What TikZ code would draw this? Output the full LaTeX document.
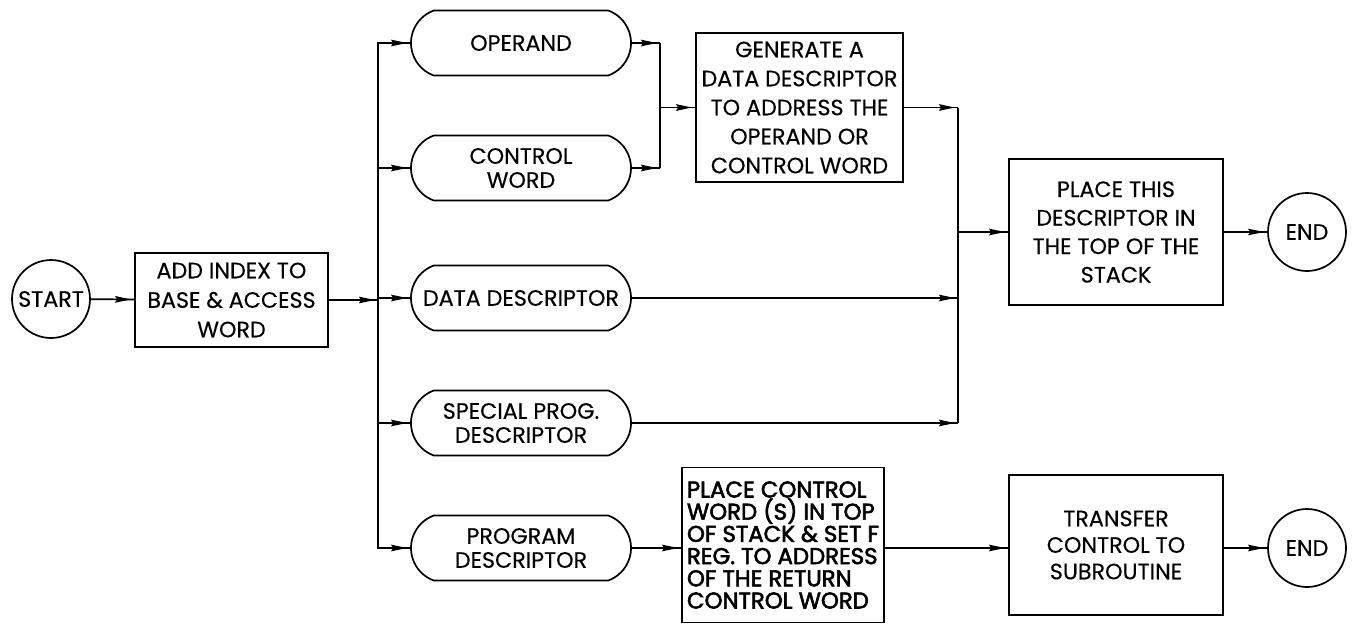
\documentclass[tikz,border=0pt]{standalone}
\usepackage{fontspec}
\setmainfont{Poppins}[FakeBold=0.3]
\newfontfamily\heavyfont{Poppins}[FakeBold=2.5]
\usetikzlibrary{arrows.meta,shapes.misc,decorations.markings}

\newlength\calw

\begin{document}
% font sizes derived from the printed line widths
\settowidth\calw{\fontsize{10pt}{12pt}\selectfont DATA DESCRIPTOR}%
\pgfmathsetmacro\mainfs{10*196/\calw}%
\settowidth\calw{\fontsize{10pt}{12pt}\heavyfont OF STACK \& SET F}%
\pgfmathsetmacro\boldfs{10*192/\calw}%
\begin{tikzpicture}[x=1pt,y=-1pt,
  line width=1.7pt,
  every node/.style={font=\fontsize{\mainfs}{28}\selectfont, inner sep=0pt, align=center},
  flow/.style={postaction={decorate}, decoration={markings,
      mark=at position -3pt with {\arrow{Stealth[length=16pt,width=6.5pt,inset=2pt]}}}},
  termnode/.style={draw, circle, minimum size=78pt},
  procbox/.style={draw, rectangle},
  choice/.style={draw, rounded rectangle, rounded rectangle arc length=140,
    minimum width=220pt, minimum height=65pt,
    font=\fontsize{\mainfs}{24}\selectfont},
]
\useasboundingbox (0,0) rectangle (1355,624);

% entry and address computation
\node[termnode] (start) at (51,299) {START};
\node[procbox, minimum width=193pt, minimum height=94pt, font=\fontsize{\mainfs}{29.5}\selectfont]
  (add) at (231.5,300) {ADD INDEX TO\\BASE \& ACCESS\\WORD};

% word types fetched from the stack
\node[choice] (op) at (521,43) {OPERAND};
\node[choice] (cw) at (521,168) {CONTROL\\WORD};
\node[choice] (dd) at (521,298) {DATA DESCRIPTOR};
\node[choice] (sp) at (521,423) {SPECIAL PROG.\\DESCRIPTOR};
\node[choice] (pd) at (521,548) {PROGRAM\\DESCRIPTOR};

% actions
\node[procbox, minimum width=207pt, minimum height=149pt, font=\fontsize{\mainfs}{29}\selectfont]
  (gen) at (799.5,107.5)
  {GENERATE A\\DATA DESCRIPTOR\\TO ADDRESS THE\\OPERAND OR\\CONTROL WORD};
\node[procbox, minimum width=214pt, minimum height=146pt, font=\fontsize{\mainfs}{28.5}\selectfont]
  (pts) at (1116,232)
  {PLACE THIS\\DESCRIPTOR IN\\THE TOP OF THE\\STACK};
\node[termnode] (end1) at (1307,232) {END};

\node[procbox, minimum width=202pt, minimum height=155pt,
  font=\fontsize{\boldfs}{22.2}\heavyfont, align=left] (pcw) at (783,545)
  {PLACE CONTROL\\WORD (S) IN TOP\\OF STACK \& SET F\\REG. TO ADDRESS\\OF THE RETURN\\CONTROL WORD};
\node[procbox, minimum width=214pt, minimum height=140pt,
  font=\fontsize{\mainfs}{26.5}\selectfont] (xfer) at (1116,545)
  {TRANSFER\\CONTROL TO\\SUBROUTINE};
\node[termnode] (end2) at (1307,548) {END};

% junction points
\coordinate (split) at (378,300);
\coordinate (m1top) at (660,43);
\coordinate (m1bot) at (660,168);
\coordinate (m1) at (660,107.5);
\coordinate (m2a) at (958,107.5);
\coordinate (m2b) at (958,298);
\coordinate (m2c) at (958,423);
\coordinate (m2out) at (958,232);

% connectors
\draw[flow] (start) -- (add);
\draw[flow] (add) -- (split);
\draw[flow] (split) |- (op);
\draw[flow] (split) |- (cw);
\draw[flow] (split) |- (dd);
\draw[flow] (split) |- (sp);
\draw[flow] (split) |- (pd);

\draw[flow] (op) -- (m1top);
\draw[flow] (cw) -- (m1bot);
\draw (m1top) -- (m1bot);
\draw[flow] (m1) -- (gen);

\draw[flow] (gen) -- (m2a);
\draw[flow] (dd) -- (m2b);
\draw[flow] (sp) -- (m2c);
\draw (m2a) -- (m2c);
\draw[flow] (m2out) -- (pts);
\draw[flow] (pts) -- (end1);

\draw[flow] (pd.east) -- (pd.east -| pcw.west);
\draw[flow] (pcw.east |- pd.east) -- (xfer.west |- pd.east);
\draw[flow] (xfer.east |- end2) -- (end2);
\end{tikzpicture}
\end{document}
